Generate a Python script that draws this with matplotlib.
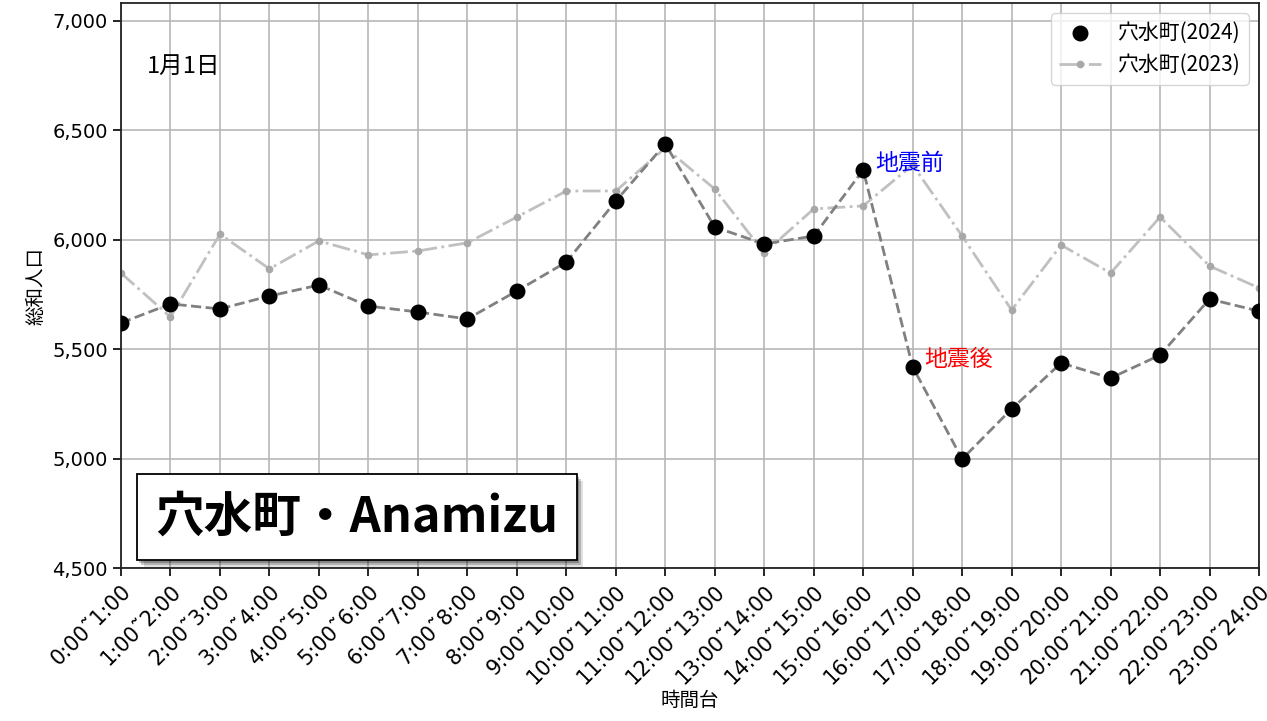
import matplotlib
matplotlib.use("Agg")
import matplotlib.pyplot as plt
import matplotlib.patheffects as pe

plt.rcParams['font.family'] = ['Noto Sans CJK JP', 'DejaVu Sans']

hours = [f"{h}:00˜{h + 1}:00" for h in range(24)]
pop_2024 = [5620, 5707, 5684, 5743, 5793, 5697, 5670, 5638, 5766, 5898, 6177, 6438,
            6058, 5981, 6017, 6319, 5419, 4998, 5227, 5437, 5368, 5473, 5729, 5674]
pop_2023 = [5848, 5647, 6026, 5867, 5995, 5931, 5949, 5986, 6104, 6223, 6223, 6420,
            6232, 5940, 6141, 6155, 6342, 6017, 5679, 5976, 5848, 6104, 5880, 5780]
y_ticks = [4500, 5000, 5500, 6000, 6500, 7000]

x = list(range(len(hours)))

fig = plt.figure(figsize=(12.67, 7.21), dpi=100)
ax = fig.add_axes([0.0955, 0.2122, 0.8982, 0.7836])

ax.scatter(x, pop_2024, s=110, color='black', label='穴水町(2024)', zorder=4)
ax.plot(x, pop_2024, '--', color='#808080', lw=2, zorder=3)
ax.plot(x, pop_2023, '-.', color='#c0c0c0', lw=2, marker='o', ms=4.5,
        markerfacecolor='#a8a8a8', markeredgecolor='#a8a8a8', label='穴水町(2023)', zorder=2)

ax.text(15.25, 6351, '地震前', color='blue', fontsize=16.5, va='center', ha='left')
ax.text(16.23, 5451, '地震後', color='red', fontsize=16.5, va='center', ha='left')
ax.text(0.023, 0.888, '1月1日', transform=ax.transAxes, fontsize=17, va='center')

t = ax.text(0.207, 0.0903, '穴水町・Anamizu', transform=ax.transAxes, fontsize=35,
            fontweight='bold', ha='center', va='center', zorder=6,
            bbox=dict(boxstyle='square,pad=0.38', facecolor='white', edgecolor='black', lw=1.3))
t.get_bbox_patch().set_path_effects([
    pe.SimplePatchShadow(offset=(5, -5), shadow_rgbFace='black', alpha=0.12),
    pe.SimplePatchShadow(offset=(3.5, -3.5), shadow_rgbFace='black', alpha=0.2),
    pe.SimplePatchShadow(offset=(2, -2), shadow_rgbFace='black', alpha=0.25),
    pe.Normal()])

ax.set_xlim(0, 23)
ax.set_ylim(4500, 7082)
ax.set_xticks(x)
ax.set_xticklabels(hours, rotation=45, ha='right', rotation_mode='anchor',
                   fontsize=15, family='DejaVu Sans')
ax.set_yticks(y_ticks)
ax.set_yticklabels([f"{v:,}" for v in y_ticks], fontsize=14, family='DejaVu Sans')
ax.tick_params(length=6, width=1.2)
ax.grid(True, color='#b8b8b8', lw=1.2)
ax.set_axisbelow(True)
for s in ax.spines.values():
    s.set_color('#222222')
    s.set_linewidth(1.3)

ax.set_xlabel('時間台', fontsize=14, labelpad=2)
ax.set_ylabel('総和人口', fontsize=14)
ax.legend(loc='upper right', fontsize=15)

fig.savefig('out.png', dpi=100)
